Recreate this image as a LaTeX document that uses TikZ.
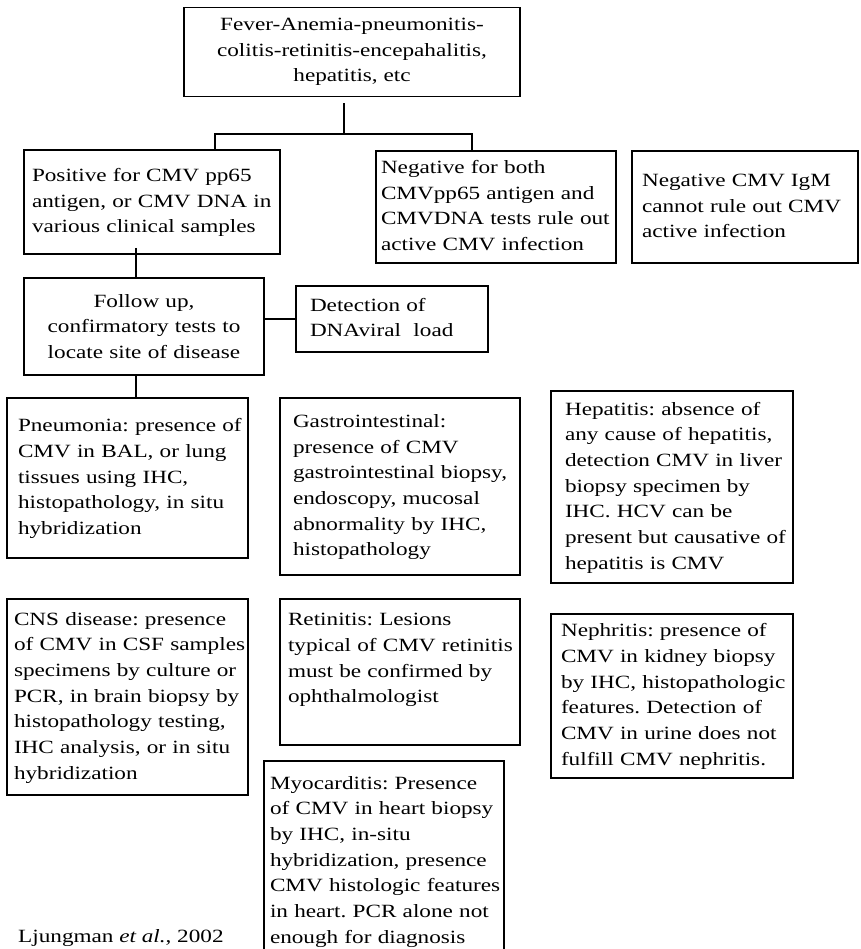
\documentclass[tikz,border=0pt]{standalone}
\usepackage{fontspec}
\setmainfont{Liberation Serif}[FakeStretch=1.24]
\usetikzlibrary{calc}
\newcommand{\boxlines}[1]{\begin{tabular}{@{}l@{}}#1\end{tabular}}
\tikzset{
  box/.style={draw=black, line width=1.8pt, align=left, inner ysep=4pt,
    font=\fontsize{18.7}{25.7}\selectfont\frenchspacing},
  cbox/.style={box, align=center},
  link/.style={draw=black, line width=1.5pt}
}
\begin{document}
\begin{tikzpicture}[x=1pt, y=-1pt]
\useasboundingbox (0,0) rectangle (860,949);
% first row
\node[cbox, minimum width=336pt, minimum height=89pt] (top) at (352,52)
  {Fever-Anemia-pneumonitis-\\colitis-retinitis-encepahalitis,\\hepatitis, etc};
\node[box, inner xsep=8pt, text width=240pt, minimum height=104pt] (pos) at (152,202)
  {\boxlines{Positive for CMV pp65\\antigen, or CMV DNA in\\various clinical samples}};
\node[box, inner xsep=5pt, text width=230pt, minimum height=112pt] (neg) at (496,207)
  {\boxlines{Negative for both\\CMVpp65 antigen and\\CMVDNA tests rule out\\active CMV infection}};
\node[box, inner xsep=10pt, text width=206pt, minimum height=112pt] (igm) at (745,207)
  {\boxlines{Negative CMV IgM\\cannot rule out CMV\\active infection}};
% follow up
\node[cbox, inner xsep=8pt, text width=224pt, minimum height=97pt] (follow) at (144,326.5)
  {Follow up,\\confirmatory tests to\\locate site of disease};
\node[box, inner xsep=14pt, text width=164pt, minimum height=66pt] (det) at (392,319)
  {\boxlines{Detection of\\DNAviral~ load}};
% sites of disease
\node[box, inner xsep=11pt, text width=219pt, minimum height=160pt] (pneu) at (127.5,478)
  {\boxlines{Pneumonia: presence of\\CMV in BAL, or lung\\tissues using IHC,\\histopathology, in situ\\hybridization}};
\node[box, inner xsep=13pt, text width=214pt, minimum height=177pt] (gastro) at (400,486.5)
  {\boxlines{Gastrointestinal:\\presence of CMV\\gastrointestinal biopsy,\\endoscopy, mucosal\\abnormality by IHC,\\histopathology}};
\node[box, inner xsep=14pt, text width=214pt, minimum height=192pt] (hep) at (672,487)
  {\boxlines{Hepatitis: absence of\\any cause of hepatitis,\\detection CMV in liver\\biopsy specimen by\\IHC. HCV can be\\present but causative of\\hepatitis is CMV}};
\node[box, inner xsep=7pt, text width=227pt, minimum height=196pt] (cns) at (127.5,697)
  {\boxlines{CNS disease: presence\\of CMV in CSF samples\\specimens by culture or\\PCR, in brain biopsy by\\histopathology testing,\\IHC analysis, or in situ\\hybridization}};
\node[box, inner xsep=8pt, text width=224pt, minimum height=146pt] (ret) at (400,672)
  {\boxlines{Retinitis: Lesions\\typical of CMV retinitis\\must be confirmed by\\ophthalmologist\\~}};
\node[box, inner xsep=10pt, text width=222pt, minimum height=164pt] (neph) at (672,696)
  {\boxlines{Nephritis: presence of\\CMV in kidney biopsy\\by IHC, histopathologic\\features. Detection of\\CMV in urine does not\\fulfill CMV nephritis.}};
\node[box, inner xsep=6pt, text width=228pt, minimum height=200pt] (myo) at (384,861)
  {\boxlines{Myocarditis: Presence\\of CMV in heart biopsy\\by IHC, in-situ\\hybridization, presence\\CMV histologic features\\in heart. PCR alone not\\enough for diagnosis}};
\node[anchor=base west, inner sep=0pt, font=\fontsize{18.7}{25.7}\selectfont] (cite) at (18,942)
  {Ljungman \textit{et al.}, 2002};
% connectors
\coordinate (fork) at (344,134);
\coordinate (forkL) at (215,134);
\coordinate (forkR) at (472,134);
\coordinate (drop) at (136,0);
\draw[link, shorten <=6pt] (fork |- top.south) -- (fork);
\draw[link] (forkL |- pos.north) -- (forkL) -- (forkR) -- (forkR |- neg.north);
\draw[link, shorten <=-7pt] (drop |- pos.south) -- (drop |- follow.north);
\draw[link] (det.west -| follow.east) -- (det.west);
\draw[link] (drop |- follow.south) -- (drop |- pneu.north);
\end{tikzpicture}
\end{document}
